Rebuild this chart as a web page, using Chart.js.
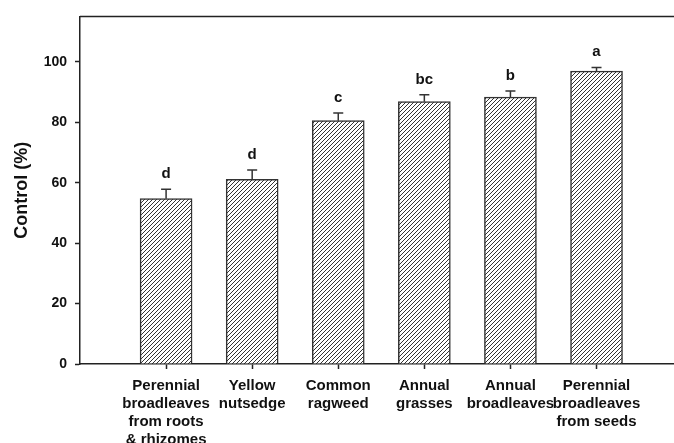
<!DOCTYPE html>
<html>
<head>
<meta charset="utf-8">
<script src="https://cdn.jsdelivr.net/npm/chart.js@4/dist/chart.umd.min.js"></script>
<style>
  html, body { margin: 0; padding: 0; background: #fff; overflow: hidden; }
  canvas { display: block; }
</style>
</head>
<body>
<canvas id="chart" width="674" height="443"></canvas>
<script>
// 雑草の種類ごとの防除率
const categories = [
    ['Perennial', 'broadleaves', 'from roots', '& rhizomes'],
    ['Yellow', 'nutsedge'],
    ['Common', 'ragweed'],
    ['Annual', 'grasses'],
    ['Annual', 'broadleaves'],
    ['Perennial', 'broadleaves', 'from seeds']
];
const controlMeans = [54.7, 61.1, 80.5, 86.8, 88.3, 96.9];
const controlErrors = [3.1, 3.1, 2.5, 2.3, 2.0, 1.2];
const groupLetters = ['d', 'd', 'c', 'bc', 'b', 'a'];
const yTicks = [0, 20, 40, 60, 80, 100];

const FONT = "'Liberation Sans', Arial, sans-serif";
const INK = '#222';

// 斜線ハッチのパターンを作成
function makeHatch() {
    const c = document.createElement('canvas');
    c.width = 4;
    c.height = 4;
    const g = c.getContext('2d');
    g.fillStyle = '#fff';
    g.fillRect(0, 0, 4, 4);
    g.strokeStyle = '#333';
    g.lineWidth = 1;
    g.beginPath();
    g.moveTo(0, 4); g.lineTo(4, 0);
    g.moveTo(-1, 1); g.lineTo(1, -1);
    g.moveTo(3, 5); g.lineTo(5, 3);
    g.stroke();
    return g.createPattern(c, 'repeat');
}

// エラーバーと有意差の文字を描画
const errorBarPlugin = {
    id: 'errorBars',
    afterDatasetsDraw(chart) {
        const ctx = chart.ctx;
        const y = chart.scales.y;
        const meta = chart.getDatasetMeta(0);
        ctx.save();
        ctx.strokeStyle = '#333';
        ctx.lineWidth = 1.5;
        meta.data.forEach((bar, i) => {
            const top = y.getPixelForValue(controlMeans[i] + controlErrors[i]);
            const base = y.getPixelForValue(controlMeans[i]);
            ctx.beginPath();
            ctx.moveTo(bar.x, base);
            ctx.lineTo(bar.x, top);
            ctx.moveTo(bar.x - 5, top);
            ctx.lineTo(bar.x + 5, top);
            ctx.stroke();

            ctx.fillStyle = '#111';
            ctx.font = 'bold 15px ' + FONT;
            ctx.textAlign = 'center';
            ctx.textBaseline = 'alphabetic';
            ctx.fillText(groupLetters[i], bar.x, top - 11);
        });
        ctx.restore();
    }
};

// 上側の枠線
const topBorderPlugin = {
    id: 'topBorder',
    afterDraw(chart) {
        const a = chart.chartArea;
        const ctx = chart.ctx;
        ctx.save();
        ctx.strokeStyle = INK;
        ctx.lineWidth = 1.5;
        ctx.beginPath();
        ctx.moveTo(a.left, a.top);
        ctx.lineTo(a.right, a.top);
        ctx.stroke();
        ctx.restore();
    }
};

const ctx = document.getElementById('chart').getContext('2d');
new Chart(ctx, {
    type: 'bar',
    data: {
        datasets: [{
            data: controlMeans.map((v, i) => ({ x: i, y: v })),
            backgroundColor: makeHatch(),
            borderColor: '#333',
            borderWidth: 1.5,
            barThickness: 52
        }]
    },
    options: {
        responsive: false,
        animation: false,
        devicePixelRatio: 1,
        layout: { padding: { top: 12, right: 0, left: 0, bottom: 0 } },
        plugins: {
            legend: { display: false },
            tooltip: { enabled: false }
        },
        scales: {
            x: {
                type: 'linear',
                min: -1,
                max: 5.9,
                offset: false,
                grid: { offset: false, drawOnChartArea: false, tickLength: 5, tickColor: INK, tickWidth: 1.5 },
                border: { color: INK, width: 1.5 },
                afterBuildTicks: axis => {
                    axis.ticks = categories.map((_, i) => ({ value: i }));
                },
                afterFit: axis => { axis.height = 79; },
                ticks: {
                    autoSkip: false,
                    maxRotation: 0,
                    padding: 8,
                    color: '#111',
                    font: { family: FONT, size: 15, weight: 'bold', lineHeight: 1.2 },
                    callback: v => categories[v]
                }
            },
            y: {
                min: 0,
                max: 115,
                grid: { drawOnChartArea: false, tickLength: 5, tickColor: INK, tickWidth: 1.5 },
                border: { color: INK, width: 1.5 },
                afterBuildTicks: axis => {
                    axis.ticks = yTicks.map(v => ({ value: v }));
                },
                afterFit: axis => { axis.width = 80; },
                ticks: {
                    padding: 8,
                    color: '#111',
                    font: { family: FONT, size: 14, weight: 'bold' }
                },
                title: {
                    display: true,
                    text: 'Control (%)',
                    color: '#111',
                    padding: { top: 11, bottom: 0 },
                    font: { family: FONT, size: 18, weight: 'bold' }
                }
            }
        }
    },
    plugins: [errorBarPlugin, topBorderPlugin]
});
</script>
</body>
</html>
